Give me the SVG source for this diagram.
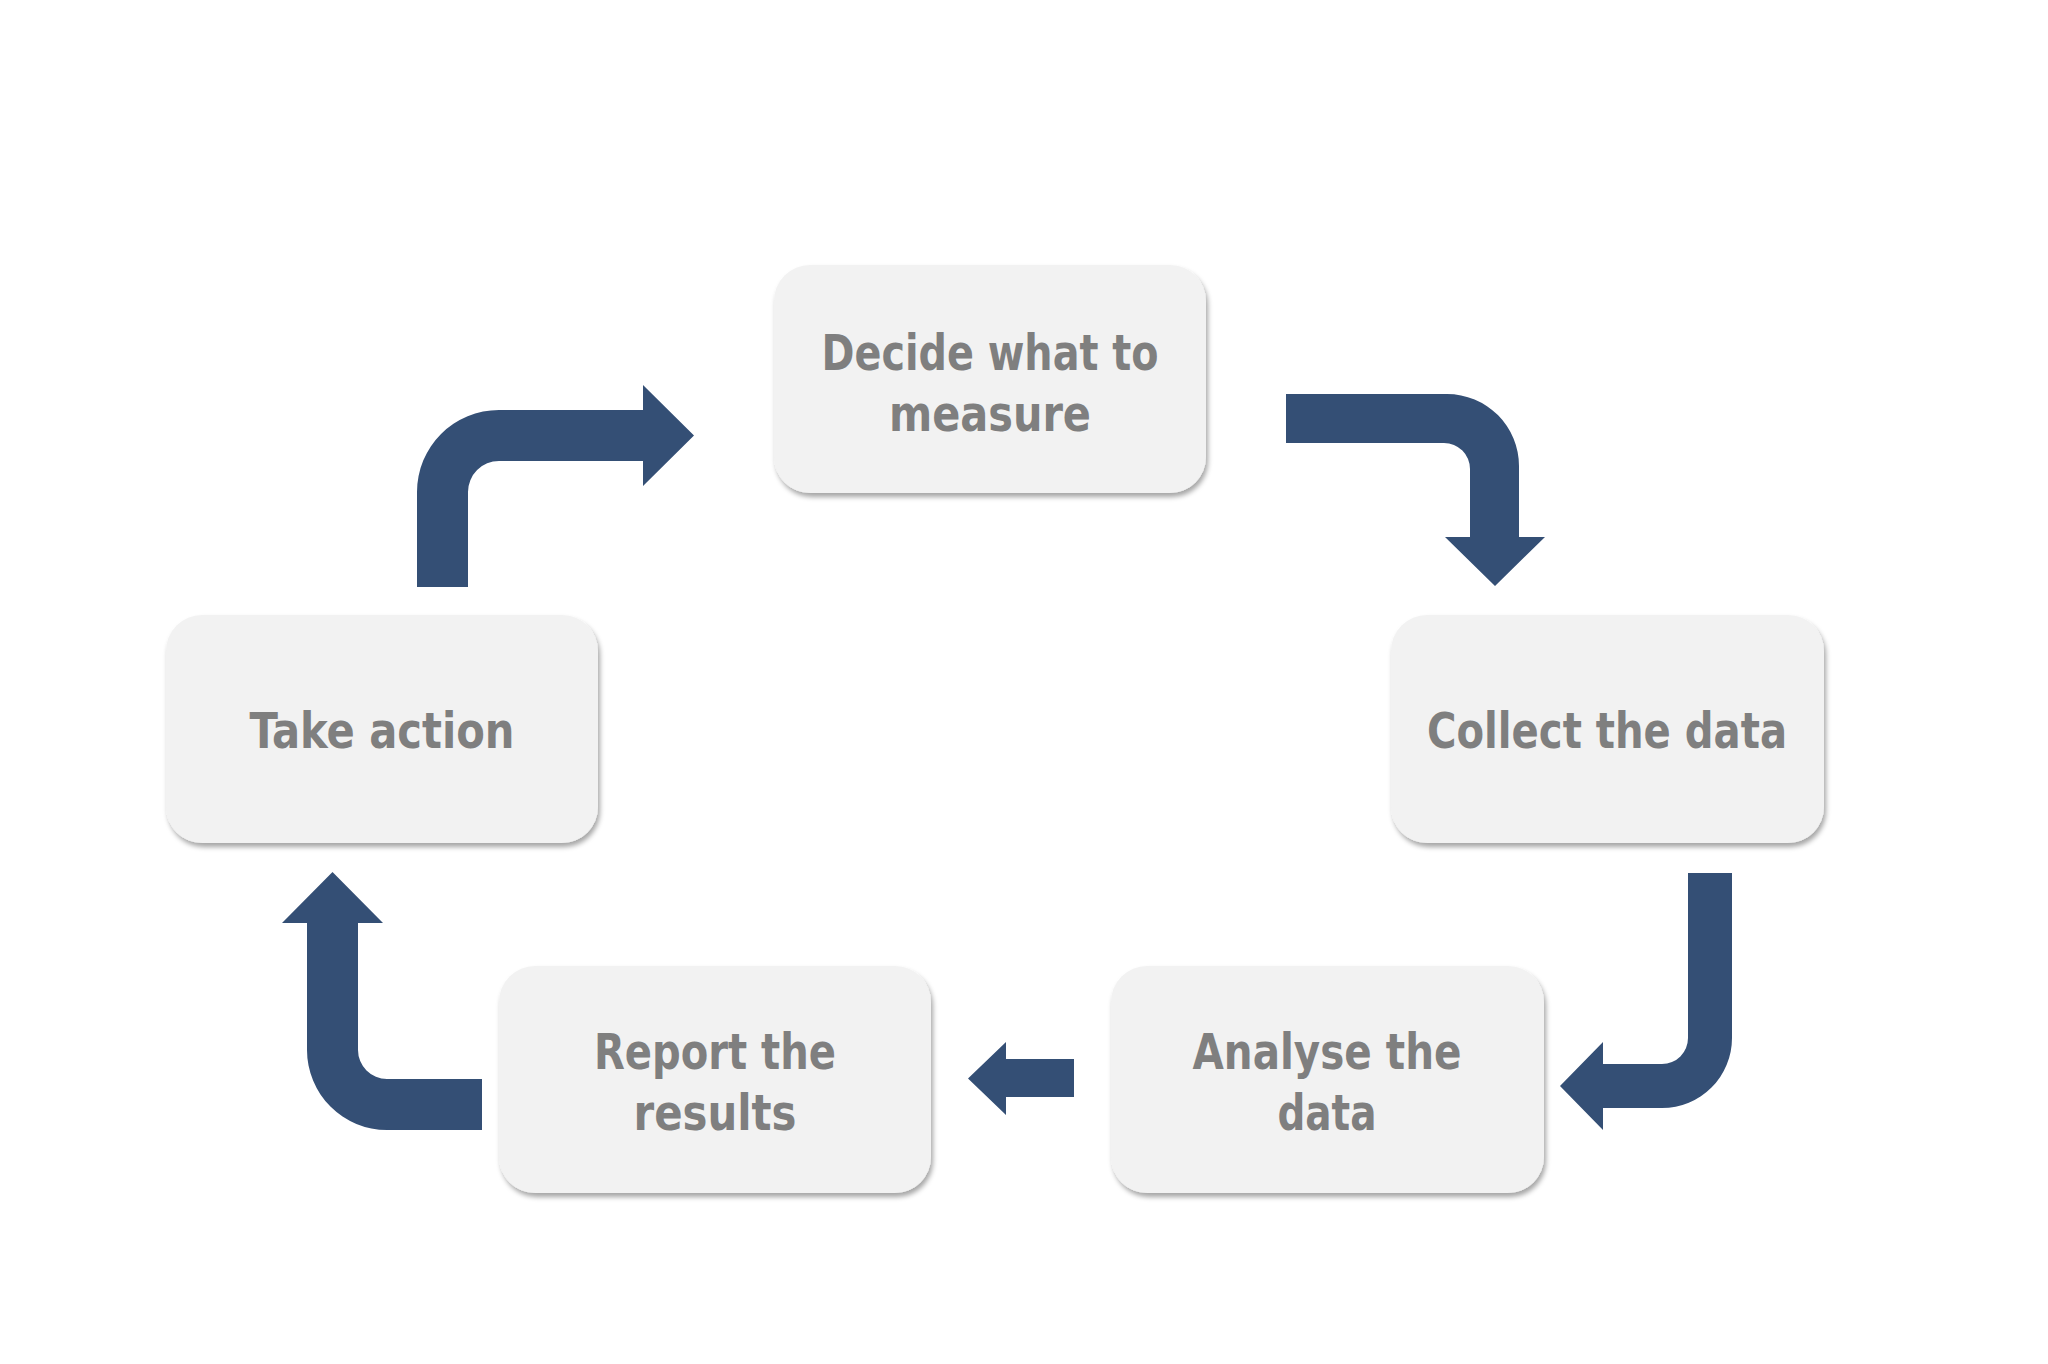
<svg xmlns="http://www.w3.org/2000/svg" width="2048" height="1364" viewBox="0 0 2048 1364">
  <defs>
    <filter id="shadow" x="-10%" y="-10%" width="125%" height="130%">
      <feDropShadow dx="2" dy="4" stdDeviation="2.5" flood-color="#000000" flood-opacity="0.35"/>
    </filter>
  </defs>
  <style>
    .box { fill: #f2f2f2; filter: url(#shadow); }
    .lbl { font-family: "DejaVu Sans Condensed", "DejaVu Sans", "Liberation Sans", sans-serif; font-weight: bold; font-size: 49px; fill: #7f7f7f; text-anchor: middle; }
    .arrow { fill: #344f75; }
  </style>
  <rect x="0" y="0" width="2048" height="1364" fill="#ffffff"/>

  <g id="connectors">
    <path class="arrow" d="M417,587 L417,492 A82,82 0 0 1 499,410 L643,410 L643,385 L694,435.5 L643,486 L643,461 L499,461 A31,31 0 0 0 468,492 L468,587 Z"/>
    <path class="arrow" d="M1286,394 L1447,394 A72,72 0 0 1 1519,466 L1519,537 L1545,537 L1495,586 L1445,537 L1470,537 L1470,469 A26,26 0 0 0 1444,443 L1286,443 Z"/>
    <path class="arrow" d="M1688,873 L1732,873 L1732,1038 A70,70 0 0 1 1662,1108 L1603,1108 L1603,1130 L1560,1086 L1603,1042 L1603,1064 L1662,1064 A26,26 0 0 0 1688,1038 Z"/>
    <path class="arrow" d="M1074,1059 L1006,1059 L1006,1042 L968,1078.5 L1006,1115 L1006,1097 L1074,1097 Z"/>
    <path class="arrow" d="M482,1079 L387,1079 A29,29 0 0 1 358,1050 L358,923 L383,923 L332.5,872 L282,923 L307,923 L307,1050 A80,80 0 0 0 387,1130 L482,1130 Z"/>
  </g>

  <g id="decide">
    <rect class="box" x="774" y="265" width="432" height="228" rx="36" ry="36"/>
    <text class="lbl" x="990" y="370" textLength="337" lengthAdjust="spacingAndGlyphs">Decide what to</text>
    <text class="lbl" x="990" y="431" textLength="202" lengthAdjust="spacingAndGlyphs">measure</text>
  </g>

  <g id="collect">
    <rect class="box" x="1391" y="615" width="433" height="228" rx="36" ry="36"/>
    <text class="lbl" x="1607" y="748" textLength="360" lengthAdjust="spacingAndGlyphs">Collect the data</text>
  </g>

  <g id="analyse">
    <rect class="box" x="1111" y="966" width="433" height="227" rx="36" ry="36"/>
    <text class="lbl" x="1327" y="1069" textLength="269" lengthAdjust="spacingAndGlyphs">Analyse the</text>
    <text class="lbl" x="1327" y="1130" textLength="99" lengthAdjust="spacingAndGlyphs">data</text>
  </g>

  <g id="report">
    <rect class="box" x="499" y="966" width="432" height="227" rx="36" ry="36"/>
    <text class="lbl" x="715" y="1069" textLength="242" lengthAdjust="spacingAndGlyphs">Report the</text>
    <text class="lbl" x="715" y="1130" textLength="163" lengthAdjust="spacingAndGlyphs">results</text>
  </g>

  <g id="take-action">
    <rect class="box" x="166" y="615" width="432" height="228" rx="36" ry="36"/>
    <text class="lbl" x="382" y="748" textLength="265" lengthAdjust="spacingAndGlyphs">Take action</text>
  </g>
</svg>
